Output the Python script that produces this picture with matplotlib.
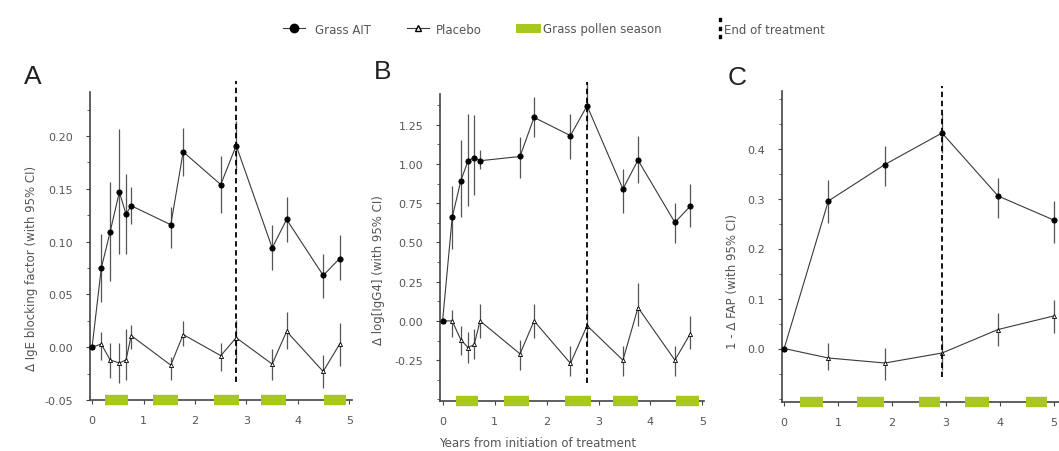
import matplotlib
matplotlib.use("Agg")
import matplotlib.pyplot as plt
from matplotlib.lines import Line2D
from matplotlib.patches import Patch
from matplotlib.ticker import AutoMinorLocator
import numpy as np

plt.rcParams['font.family'] = ['DejaVu Sans']

# Panel A : IgE blocking factor
a_x = [0, 0.18, 0.35, 0.53, 0.66, 0.76, 1.53, 1.77, 2.5, 2.8, 3.5, 3.78, 4.49, 4.81]
a_ait = [0.0, 0.075, 0.109, 0.147, 0.126, 0.134, 0.116, 0.185, 0.154, 0.191, 0.094, 0.121, 0.068, 0.084]
a_ait_lo = [0.0, 0.043, 0.063, 0.088, 0.088, 0.117, 0.094, 0.162, 0.127, 0.167, 0.073, 0.100, 0.047, 0.064]
a_ait_hi = [0.0, 0.107, 0.156, 0.207, 0.164, 0.152, 0.133, 0.208, 0.181, 0.214, 0.116, 0.142, 0.088, 0.106]
a_pla = [0.0, 0.003, -0.012, -0.015, -0.012, 0.011, -0.017, 0.012, -0.008, 0.009, -0.016, 0.015, -0.023, 0.003]
a_pla_lo = [0.0, -0.012, -0.029, -0.034, -0.031, -0.002, -0.031, 0.001, -0.023, -0.012, -0.031, -0.002, -0.039, -0.018]
a_pla_hi = [0.0, 0.014, 0.004, 0.004, 0.017, 0.021, -0.009, 0.025, 0.004, 0.026, -0.002, 0.033, -0.007, 0.023]

# Panel B : log IgG4
b_x = [0, 0.185, 0.35, 0.49, 0.61, 0.72, 1.49, 1.76, 2.46, 2.78, 3.47, 3.76, 4.47, 4.76]
b_ait = [0.0, 0.659, 0.892, 1.02, 1.04, 1.02, 1.047, 1.296, 1.18, 1.37, 0.84, 1.024, 0.627, 0.729]
b_ait_lo = [0.0, 0.457, 0.66, 0.73, 0.80, 0.97, 0.913, 1.168, 1.03, 1.243, 0.69, 0.881, 0.499, 0.595]
b_ait_hi = [0.0, 0.86, 1.15, 1.32, 1.31, 1.09, 1.168, 1.423, 1.317, 1.519, 0.966, 1.179, 0.754, 0.871]
b_pla = [0.0, 0.0, -0.12, -0.17, -0.15, 0.0, -0.21, 0.0, -0.27, -0.03, -0.25, 0.085, -0.25, -0.085]
b_pla_lo = [0.0, -0.10, -0.22, -0.27, -0.24, -0.11, -0.31, -0.11, -0.35, -0.16, -0.35, -0.03, -0.35, -0.18]
b_pla_hi = [0.0, 0.07, -0.03, -0.07, -0.05, 0.11, -0.12, 0.11, -0.16, 0.10, -0.16, 0.24, -0.16, 0.03]

# Panel C : 1 - FAP
c_x = [0, 0.82, 1.87, 2.93, 3.97, 5.0]
c_ait = [0.0, 0.295, 0.368, 0.431, 0.305, 0.257]
c_ait_lo = [0.0, 0.251, 0.325, 0.391, 0.261, 0.211]
c_ait_hi = [0.0, 0.338, 0.405, 0.471, 0.341, 0.295]
c_pla = [0.0, -0.019, -0.029, -0.009, 0.038, 0.065]
c_pla_lo = [0.0, -0.042, -0.062, -0.042, 0.005, 0.031]
c_pla_hi = [0.0, 0.011, 0.001, 0.018, 0.071, 0.098]

season_start = [0.25, 1.18, 2.36, 3.28, 4.5]
season_end = [0.69, 1.67, 2.85, 3.76, 4.93]
c_season_start = [0.3, 1.36, 2.5, 3.36, 4.48]
c_season_end = [0.72, 1.85, 2.9, 3.8, 4.88]

end_treatment = [2.8, 2.78, 2.92]

green = '#a9c81e'
line_col = '#3a3a3a'
txt_col = '#555555'

fig = plt.figure(figsize=(10.59, 4.52), dpi=100)

W, H = 1059, 452
def make_ax(left, right, top, bottom):
    return fig.add_axes([left / W, 1 - bottom / H, (right - left) / W, (bottom - top) / H])

axA = make_ax(90, 352, 93, 401)
axB = make_ax(440, 704, 95, 402)
axC = make_ax(782, 1059, 92, 403)


def draw(ax, x, ait, ait_lo, ait_hi, pla, pla_lo, pla_hi, s0, s1, eot, ylim, xlim, yticks, yfmt,
         ylabel, lab_xy, eot_span):
    x = np.array(x)
    for y, lo, hi, mk, ms, mfc in [(pla, pla_lo, pla_hi, '^', 3, 'white'),
                                   (ait, ait_lo, ait_hi, 'o', 3.8, 'black')]:
        y = np.array(y)
        err = [y - np.array(lo), np.array(hi) - y]
        ax.errorbar(x, y, yerr=err, fmt='-', color=line_col, lw=0.8, elinewidth=0.9,
                    ecolor='#555555', capsize=0, marker=mk, ms=ms, mfc=mfc, mec='black',
                    mew=0.6, zorder=3, clip_on=False)
    ax.set_xlim(*xlim)
    ax.set_ylim(*ylim)
    ax.axvline(eot, ymin=eot_span[0], ymax=eot_span[1], color='black', ls=(0, (3, 2)), lw=1.3,
               clip_on=False, zorder=4)
    for a, b in zip(s0, s1):
        ax.plot([a, b], [0, 0], transform=ax.get_xaxis_transform(), color=green, lw=7.5,
                solid_capstyle='butt', clip_on=False, zorder=5)
    for s in ['top', 'right']:
        ax.spines[s].set_visible(False)
    for s in ['left', 'bottom']:
        ax.spines[s].set_color('#444444')
        ax.spines[s].set_linewidth(1.2)
    ax.set_xticks(range(6))
    ax.set_yticks(yticks)
    ax.set_yticklabels([yfmt.format(v) for v in yticks])
    ax.yaxis.set_minor_locator(AutoMinorLocator(2))
    ax.tick_params(labelsize=8, colors='#444444', labelcolor=txt_col, length=3, width=0.8)
    ax.tick_params(axis='y', pad=9)
    ax.tick_params(axis='x', pad=8)
    ax.tick_params(which='minor', length=2, width=0.6, colors='#444444')
    ax.set_ylabel(ylabel, fontsize=8.5, color=txt_col)
    ax.yaxis.set_label_coords(*lab_xy)


draw(axA, a_x, a_ait, a_ait_lo, a_ait_hi, a_pla, a_pla_lo, a_pla_hi, season_start, season_end,
     end_treatment[0], (-0.05, 0.2417), (-0.04, 5.05), [-0.05, 0.0, 0.05, 0.10, 0.15, 0.20],
     '{:.2f}', '\u0394 IgE blocking factor (with 95% CI)', (-0.2, 0.43), (0.06, 1.035))
draw(axB, b_x, b_ait, b_ait_lo, b_ait_hi, b_pla, b_pla_lo, b_pla_hi, season_start, season_end,
     end_treatment[1], (-0.51, 1.445), (-0.05, 5.03), [-0.25, 0.0, 0.25, 0.5, 0.75, 1.0, 1.25],
     '{:.2f}', '\u0394 log[IgG4] (with 95% CI)', (-0.21, 0.43), (0.06, 1.04))
draw(axC, c_x, c_ait, c_ait_lo, c_ait_hi, c_pla, c_pla_lo, c_pla_hi, c_season_start, c_season_end,
     end_treatment[2], (-0.107, 0.515), (-0.04, 5.1), [0.0, 0.1, 0.2, 0.3, 0.4],
     '{:.1f}', '1 - \u0394 FAP (with 95% CI)', (-0.155, 0.39), (0.08, 1.016))

axB.set_xlabel('Years from initiation of treatment', fontsize=8.5, color=txt_col, va='top')
axB.xaxis.set_label_coords(0.37, -0.115)

for letter, lx, ly in [('A', 33, 77), ('B', 383, 72), ('C', 737, 78)]:
    fig.text(lx / W, 1 - ly / H, letter, fontsize=19, ha='center', va='center', color='#222222',
             family='Liberation Sans')

legend_items = [
    (Line2D([], [], color=line_col, lw=0.8, marker='o', ms=6, mfc='black', mec='black'),
     'Grass AIT', 283, 1.9, 0.8),
    (Line2D([], [], color=line_col, lw=0.8, marker='^', ms=4, mfc='white', mec='black'),
     'Placebo', 407, 1.9, 0.55),
    (Patch(facecolor=green, edgecolor='none'), 'Grass pollen season', 516, 2.1, 0.2),
    (Line2D([], [], color='black', ls='none', marker=r'$\vdots$', ms=14),
     'End of treatment', 716, 0.6, 0.05),
]
for h, lab, x0, hl, tp in legend_items:
    fig.legend([h], [lab], loc='center left', bbox_to_anchor=(x0 / W, 1 - 30 / H),
               frameon=False, fontsize=8.5, handlelength=hl, handletextpad=tp,
               borderpad=0, borderaxespad=0, labelcolor=txt_col)

fig.savefig('out.png', dpi=100)
